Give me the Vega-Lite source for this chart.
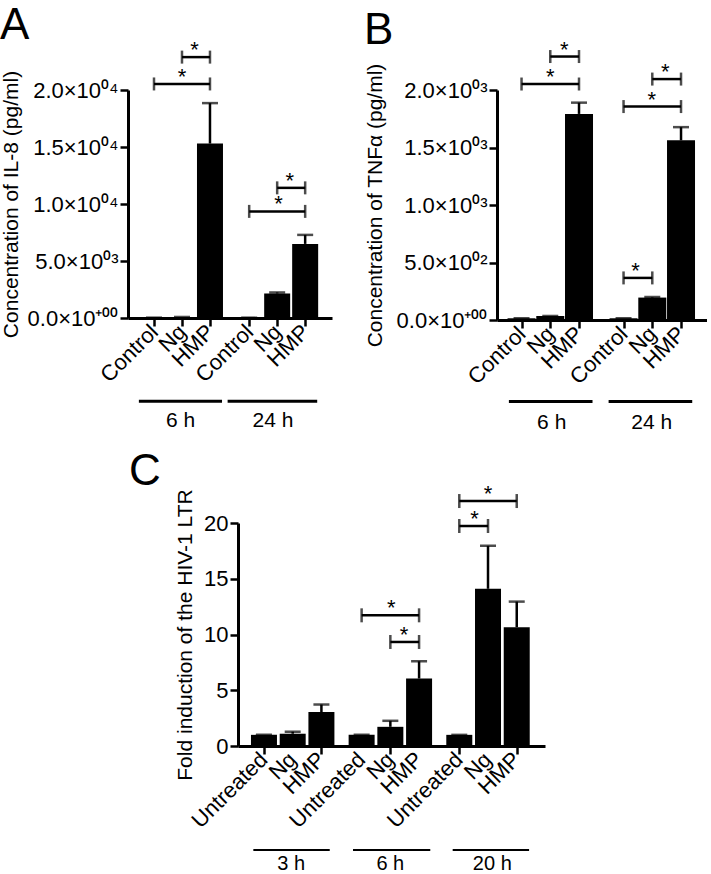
{
  "$schema": "https://vega.github.io/schema/vega-lite/v6.json",
  "background": "white",
  "padding": {"left": 0, "top": 4, "right": 0, "bottom": 0},
  "config": {
    "font": "Liberation Sans",
    "view": {"stroke": null},
    "axis": {"labelFont": "Liberation Sans", "titleFont": "Liberation Sans", "labelFontSize": 22, "titleFontSize": 21, "titleFontWeight": "normal", "labelColor": "black", "titleColor": "black", "domainColor": "black", "tickColor": "black", "domainWidth": 3, "tickWidth": 2.5, "tickSize": 8, "labelPadding": 2, "grid": false, "labelFlush": false, "labelOverlap": false, "labelBound": false},
    "title": {"font": "Liberation Sans", "fontWeight": "normal", "fontSize": 44, "anchor": "start", "color": "black", "baseline": "alphabetic"},
    "text": {"font": "Liberation Sans", "color": "black"}
  },
  "datasets": {
    "a_bars": [
      {"group": "6 h", "treatment": "Control", "pos": 1, "mean": 30, "hi": 30},
      {"group": "6 h", "treatment": "Ng", "pos": 2, "mean": 90, "hi": 90},
      {"group": "6 h", "treatment": "HMP", "pos": 3, "mean": 15300, "hi": 18850},
      {"group": "24 h", "treatment": "Control", "pos": 4.4, "mean": 30, "hi": 30},
      {"group": "24 h", "treatment": "Ng", "pos": 5.4, "mean": 2150, "hi": 2240},
      {"group": "24 h", "treatment": "HMP", "pos": 6.4, "mean": 6500, "hi": 7290}
    ],
    "a_sig": [
      {"x1": 1, "x2": 3, "mid": 2, "y": 20530, "mark": "*"},
      {"x1": 2, "x2": 3, "mid": 2.45, "y": 22885, "mark": "*"},
      {"x1": 4.4, "x2": 6.4, "mid": 5.45, "y": 9352, "mark": "*"},
      {"x1": 5.4, "x2": 6.4, "mid": 5.85, "y": 11416, "mark": "*"}
    ],
    "a_groups": [
      {"group": "6 h", "start": 0.46, "end": 3.43, "mid": 1.95},
      {"group": "24 h", "start": 3.63, "end": 6.83, "mid": 5.25}
    ],
    "b_bars": [
      {"group": "6 h", "treatment": "Control", "pos": 1, "mean": 15, "hi": 15},
      {"group": "6 h", "treatment": "Ng", "pos": 2, "mean": 35, "hi": 35},
      {"group": "6 h", "treatment": "HMP", "pos": 3, "mean": 1792, "hi": 1890},
      {"group": "24 h", "treatment": "Control", "pos": 4.55, "mean": 15, "hi": 15},
      {"group": "24 h", "treatment": "Ng", "pos": 5.55, "mean": 195, "hi": 200},
      {"group": "24 h", "treatment": "HMP", "pos": 6.55, "mean": 1562, "hi": 1677}
    ],
    "b_sig": [
      {"x1": 1, "x2": 3, "mid": 2, "y": 2052, "mark": "*"},
      {"x1": 2, "x2": 3, "mid": 2.49, "y": 2291, "mark": "*"},
      {"x1": 4.55, "x2": 6.55, "mid": 5.53, "y": 1856, "mark": "*"},
      {"x1": 5.55, "x2": 6.55, "mid": 6.0, "y": 2095, "mark": "*"},
      {"x1": 4.55, "x2": 5.55, "mid": 4.97, "y": 366, "mark": "*"}
    ],
    "b_groups": [
      {"group": "6 h", "start": 0.56, "end": 3.47, "mid": 2.05},
      {"group": "24 h", "start": 4.03, "end": 6.94, "mid": 5.53}
    ],
    "c_bars": [
      {"group": "3 h", "treatment": "Untreated", "pos": 1, "mean": 1, "hi": 1},
      {"group": "3 h", "treatment": "Ng", "pos": 2, "mean": 1.1, "hi": 1.28},
      {"group": "3 h", "treatment": "HMP", "pos": 3, "mean": 3.05, "hi": 3.72},
      {"group": "6 h", "treatment": "Untreated", "pos": 4.4, "mean": 1, "hi": 1},
      {"group": "6 h", "treatment": "Ng", "pos": 5.4, "mean": 1.72, "hi": 2.26},
      {"group": "6 h", "treatment": "HMP", "pos": 6.4, "mean": 6.05, "hi": 7.6},
      {"group": "20 h", "treatment": "Untreated", "pos": 7.8, "mean": 1, "hi": 1},
      {"group": "20 h", "treatment": "Ng", "pos": 8.8, "mean": 14.1, "hi": 17.95},
      {"group": "20 h", "treatment": "HMP", "pos": 9.8, "mean": 10.65, "hi": 12.95}
    ],
    "c_sig": [
      {"x1": 4.4, "x2": 6.4, "mid": 5.43, "y": 11.72, "mark": "*"},
      {"x1": 5.4, "x2": 6.4, "mid": 5.88, "y": 9.33, "mark": "*"},
      {"x1": 7.8, "x2": 9.8, "mid": 8.8, "y": 21.97, "mark": "*"},
      {"x1": 7.8, "x2": 8.8, "mid": 8.33, "y": 19.73, "mark": "*"}
    ],
    "c_groups": [
      {"group": "3 h", "start": 0.63, "end": 3.29, "mid": 1.95},
      {"group": "6 h", "start": 4.1, "end": 6.79, "mid": 5.4},
      {"group": "20 h", "start": 7.57, "end": 10.23, "mid": 8.95}
    ]
  },
  "spacing": 17,
  "vconcat": [
    {
      "spacing": 32,
      "hconcat": [
        {
          "width": 204, "height": 228,
          "title": {"text": "A", "offset": -9},
          "layer": [
            {"data": {"name": "a_bars"}, "mark": {"type": "bar", "size": 26, "orient": "vertical", "color": "black"},
             "encoding": {
               "x": {"field": "pos", "type": "quantitative", "scale": {"domain": [0.25, 7.18], "nice": false, "zero": false},
                     "axis": {"title": null, "values": [1, 2, 3, 4.4, 5.4, 6.4], "labelExpr": "datum.value==1||datum.value==4.4?'Control':datum.value==2||datum.value==5.4?'Ng':'HMP'", "labelAngle": -45, "labelAlign": "right", "labelBaseline": "middle", "labelOverlap": false}},
               "y": {"field": "mean", "type": "quantitative", "scale": {"domain": [0, 20000], "nice": false, "zero": false},
                     "axis": {"title": "Concentration of IL-8 (pg/ml)", "values": [0, 5000, 10000, 15000, 20000], "labelExpr": "datum.value==0?'0.0×10⁺⁰⁰':datum.value==5000?'5.0×10⁰³':datum.value==10000?'1.0×10⁰⁴':datum.value==15000?'1.5×10⁰⁴':'2.0×10⁰⁴'", "titlePadding": 6, "labelOverlap": false}}
             }},
            {"data": {"name": "a_bars"}, "mark": {"type": "rule", "strokeWidth": 2.5, "color": "black"},
             "encoding": {
               "x": {"field": "pos", "type": "quantitative", "scale": {"domain": [0.25, 7.18], "nice": false, "zero": false}},
               "y": {"field": "mean", "type": "quantitative", "scale": {"domain": [0, 20000], "nice": false, "zero": false}},
               "y2": {"field": "hi"}
             }},
            {"data": {"name": "a_bars"}, "mark": {"type": "tick", "orient": "horizontal", "size": 16, "thickness": 2.5, "color": "black"},
             "encoding": {
               "x": {"field": "pos", "type": "quantitative", "scale": {"domain": [0.25, 7.18], "nice": false, "zero": false}},
               "y": {"field": "hi", "type": "quantitative", "scale": {"domain": [0, 20000], "nice": false, "zero": false}}
             }},
            {"data": {"name": "a_sig"}, "mark": {"type": "rule", "strokeWidth": 2.5, "color": "black"},
             "encoding": {
               "x": {"field": "x1", "type": "quantitative", "scale": {"domain": [0.25, 7.18], "nice": false, "zero": false}},
               "x2": {"field": "x2"},
               "y": {"field": "y", "type": "quantitative", "scale": {"domain": [0, 20000], "nice": false, "zero": false}}
             }},
            {"data": {"name": "a_sig"}, "mark": {"type": "tick", "orient": "vertical", "size": 13, "thickness": 2.5, "color": "black"},
             "encoding": {
               "x": {"field": "x1", "type": "quantitative", "scale": {"domain": [0.25, 7.18], "nice": false, "zero": false}},
               "y": {"field": "y", "type": "quantitative", "scale": {"domain": [0, 20000], "nice": false, "zero": false}}
             }},
            {"data": {"name": "a_sig"}, "mark": {"type": "tick", "orient": "vertical", "size": 13, "thickness": 2.5, "color": "black"},
             "encoding": {
               "x": {"field": "x2", "type": "quantitative", "scale": {"domain": [0.25, 7.18], "nice": false, "zero": false}},
               "y": {"field": "y", "type": "quantitative", "scale": {"domain": [0, 20000], "nice": false, "zero": false}}
             }},
            {"data": {"name": "a_sig"}, "mark": {"type": "text", "fontSize": 22, "baseline": "alphabetic", "align": "center"},
             "encoding": {
               "x": {"field": "mid", "type": "quantitative", "scale": {"domain": [0.25, 7.18], "nice": false, "zero": false}},
               "y": {"field": "y", "type": "quantitative", "scale": {"domain": [0, 20000], "nice": false, "zero": false}},
               "text": {"field": "mark"}
             }},
            {"data": {"name": "a_groups"}, "mark": {"type": "rule", "strokeWidth": 3, "color": "black"},
             "encoding": {
               "x": {"field": "start", "type": "quantitative", "scale": {"domain": [0.25, 7.18], "nice": false, "zero": false}},
               "x2": {"field": "end"},
               "y": {"datum": -7307, "type": "quantitative", "scale": {"domain": [0, 20000], "nice": false, "zero": false}}
             }},
            {"data": {"name": "a_groups"}, "mark": {"type": "text", "fontSize": 21, "baseline": "alphabetic", "align": "center"},
             "encoding": {
               "x": {"field": "mid", "type": "quantitative", "scale": {"domain": [0.25, 7.18], "nice": false, "zero": false}},
               "y": {"datum": -9561, "type": "quantitative", "scale": {"domain": [0, 20000], "nice": false, "zero": false}},
               "text": {"field": "group"}
             }}
          ]
        },
        {
          "width": 210, "height": 230,
          "title": {"text": "B", "offset": -14},
          "layer": [
            {"data": {"name": "b_bars"}, "mark": {"type": "bar", "size": 28, "orient": "vertical", "color": "black"},
             "encoding": {
               "x": {"field": "pos", "type": "quantitative", "scale": {"domain": [0.32, 7.28], "nice": false, "zero": false},
                     "axis": {"title": null, "values": [1, 2, 3, 4.55, 5.55, 6.55], "labelExpr": "datum.value==1||datum.value==4.55?'Control':datum.value==2||datum.value==5.55?'Ng':'HMP'", "labelAngle": -45, "labelAlign": "right", "labelBaseline": "middle", "labelOverlap": false}},
               "y": {"field": "mean", "type": "quantitative", "scale": {"domain": [0, 2000], "nice": false, "zero": false},
                     "axis": {"title": "Concentration of TNFα (pg/ml)", "values": [0, 500, 1000, 1500, 2000], "labelExpr": "datum.value==0?'0.0×10⁺⁰⁰':datum.value==500?'5.0×10⁰²':datum.value==1000?'1.0×10⁰³':datum.value==1500?'1.5×10⁰³':'2.0×10⁰³'", "titlePadding": 11, "labelOverlap": false}}
             }},
            {"data": {"name": "b_bars"}, "mark": {"type": "rule", "strokeWidth": 2.5, "color": "black"},
             "encoding": {
               "x": {"field": "pos", "type": "quantitative", "scale": {"domain": [0.32, 7.28], "nice": false, "zero": false}},
               "y": {"field": "mean", "type": "quantitative", "scale": {"domain": [0, 2000], "nice": false, "zero": false}},
               "y2": {"field": "hi"}
             }},
            {"data": {"name": "b_bars"}, "mark": {"type": "tick", "orient": "horizontal", "size": 16, "thickness": 2.5, "color": "black"},
             "encoding": {
               "x": {"field": "pos", "type": "quantitative", "scale": {"domain": [0.32, 7.28], "nice": false, "zero": false}},
               "y": {"field": "hi", "type": "quantitative", "scale": {"domain": [0, 2000], "nice": false, "zero": false}}
             }},
            {"data": {"name": "b_sig"}, "mark": {"type": "rule", "strokeWidth": 2.5, "color": "black"},
             "encoding": {
               "x": {"field": "x1", "type": "quantitative", "scale": {"domain": [0.32, 7.28], "nice": false, "zero": false}},
               "x2": {"field": "x2"},
               "y": {"field": "y", "type": "quantitative", "scale": {"domain": [0, 2000], "nice": false, "zero": false}}
             }},
            {"data": {"name": "b_sig"}, "mark": {"type": "tick", "orient": "vertical", "size": 13, "thickness": 2.5, "color": "black"},
             "encoding": {
               "x": {"field": "x1", "type": "quantitative", "scale": {"domain": [0.32, 7.28], "nice": false, "zero": false}},
               "y": {"field": "y", "type": "quantitative", "scale": {"domain": [0, 2000], "nice": false, "zero": false}}
             }},
            {"data": {"name": "b_sig"}, "mark": {"type": "tick", "orient": "vertical", "size": 13, "thickness": 2.5, "color": "black"},
             "encoding": {
               "x": {"field": "x2", "type": "quantitative", "scale": {"domain": [0.32, 7.28], "nice": false, "zero": false}},
               "y": {"field": "y", "type": "quantitative", "scale": {"domain": [0, 2000], "nice": false, "zero": false}}
             }},
            {"data": {"name": "b_sig"}, "mark": {"type": "text", "fontSize": 22, "baseline": "alphabetic", "align": "center"},
             "encoding": {
               "x": {"field": "mid", "type": "quantitative", "scale": {"domain": [0.32, 7.28], "nice": false, "zero": false}},
               "y": {"field": "y", "type": "quantitative", "scale": {"domain": [0, 2000], "nice": false, "zero": false}},
               "text": {"field": "mark"}
             }},
            {"data": {"name": "b_groups"}, "mark": {"type": "rule", "strokeWidth": 3, "color": "black"},
             "encoding": {
               "x": {"field": "start", "type": "quantitative", "scale": {"domain": [0.32, 7.28], "nice": false, "zero": false}},
               "x2": {"field": "end"},
               "y": {"datum": -709, "type": "quantitative", "scale": {"domain": [0, 2000], "nice": false, "zero": false}}
             }},
            {"data": {"name": "b_groups"}, "mark": {"type": "text", "fontSize": 21, "baseline": "alphabetic", "align": "center"},
             "encoding": {
               "x": {"field": "mid", "type": "quantitative", "scale": {"domain": [0.32, 7.28], "nice": false, "zero": false}},
               "y": {"datum": -945, "type": "quantitative", "scale": {"domain": [0, 2000], "nice": false, "zero": false}},
               "text": {"field": "group"}
             }}
          ]
        }
      ]
    },
    {
      "spacing": 0,
      "hconcat": [
        {"width": 1, "height": 10, "data": {"values": []}, "mark": "point"},
        {
          "width": 307, "height": 223,
          "title": {"text": "C", "offset": -11, "frame": "group", "dx": -109},
          "layer": [
            {"data": {"name": "c_bars"}, "mark": {"type": "bar", "size": 26, "orient": "vertical", "color": "black"},
             "encoding": {
               "x": {"field": "pos", "type": "quantitative", "scale": {"domain": [0.27, 10.61], "nice": false, "zero": false},
                     "axis": {"title": null, "values": [1, 2, 3, 4.4, 5.4, 6.4, 7.8, 8.8, 9.8], "labels": false}},
               "y": {"field": "mean", "type": "quantitative", "scale": {"domain": [0, 20], "nice": false, "zero": false},
                     "axis": {"title": "Fold induction of the HIV-1 LTR", "values": [0, 5, 10, 15, 20], "titlePadding": 8, "labelOverlap": false}}
             }},
            {"data": {"name": "c_bars"}, "mark": {"type": "text", "angle": 315, "align": "right", "baseline": "middle", "fontSize": 22},
             "encoding": {
               "x": {"field": "pos", "type": "quantitative", "scale": {"domain": [0.27, 10.61], "nice": false, "zero": false}},
               "y": {"datum": -0.9, "type": "quantitative", "scale": {"domain": [0, 20], "nice": false, "zero": false}},
               "text": {"field": "treatment"}
             }},
            {"data": {"name": "c_bars"}, "mark": {"type": "rule", "strokeWidth": 2.5, "color": "black"},
             "encoding": {
               "x": {"field": "pos", "type": "quantitative", "scale": {"domain": [0.27, 10.61], "nice": false, "zero": false}},
               "y": {"field": "mean", "type": "quantitative", "scale": {"domain": [0, 20], "nice": false, "zero": false}},
               "y2": {"field": "hi"}
             }},
            {"data": {"name": "c_bars"}, "mark": {"type": "tick", "orient": "horizontal", "size": 16, "thickness": 2.5, "color": "black"},
             "encoding": {
               "x": {"field": "pos", "type": "quantitative", "scale": {"domain": [0.27, 10.61], "nice": false, "zero": false}},
               "y": {"field": "hi", "type": "quantitative", "scale": {"domain": [0, 20], "nice": false, "zero": false}}
             }},
            {"data": {"name": "c_sig"}, "mark": {"type": "rule", "strokeWidth": 2.5, "color": "black"},
             "encoding": {
               "x": {"field": "x1", "type": "quantitative", "scale": {"domain": [0.27, 10.61], "nice": false, "zero": false}},
               "x2": {"field": "x2"},
               "y": {"field": "y", "type": "quantitative", "scale": {"domain": [0, 20], "nice": false, "zero": false}}
             }},
            {"data": {"name": "c_sig"}, "mark": {"type": "tick", "orient": "vertical", "size": 14, "thickness": 2.5, "color": "black"},
             "encoding": {
               "x": {"field": "x1", "type": "quantitative", "scale": {"domain": [0.27, 10.61], "nice": false, "zero": false}},
               "y": {"field": "y", "type": "quantitative", "scale": {"domain": [0, 20], "nice": false, "zero": false}}
             }},
            {"data": {"name": "c_sig"}, "mark": {"type": "tick", "orient": "vertical", "size": 14, "thickness": 2.5, "color": "black"},
             "encoding": {
               "x": {"field": "x2", "type": "quantitative", "scale": {"domain": [0.27, 10.61], "nice": false, "zero": false}},
               "y": {"field": "y", "type": "quantitative", "scale": {"domain": [0, 20], "nice": false, "zero": false}}
             }},
            {"data": {"name": "c_sig"}, "mark": {"type": "text", "fontSize": 22, "baseline": "alphabetic", "align": "center"},
             "encoding": {
               "x": {"field": "mid", "type": "quantitative", "scale": {"domain": [0.27, 10.61], "nice": false, "zero": false}},
               "y": {"field": "y", "type": "quantitative", "scale": {"domain": [0, 20], "nice": false, "zero": false}},
               "text": {"field": "mark"}
             }},
            {"data": {"name": "c_groups"}, "mark": {"type": "rule", "strokeWidth": 2, "color": "black"},
             "encoding": {
               "x": {"field": "start", "type": "quantitative", "scale": {"domain": [0.27, 10.61], "nice": false, "zero": false}},
               "x2": {"field": "end"},
               "y": {"datum": -9.33, "type": "quantitative", "scale": {"domain": [0, 20], "nice": false, "zero": false}}
             }},
            {"data": {"name": "c_groups"}, "mark": {"type": "text", "fontSize": 20, "baseline": "alphabetic", "align": "center"},
             "encoding": {
               "x": {"field": "mid", "type": "quantitative", "scale": {"domain": [0.27, 10.61], "nice": false, "zero": false}},
               "y": {"datum": -11.12, "type": "quantitative", "scale": {"domain": [0, 20], "nice": false, "zero": false}},
               "text": {"field": "group"}
             }}
          ]
        }
      ]
    }
  ]
}
